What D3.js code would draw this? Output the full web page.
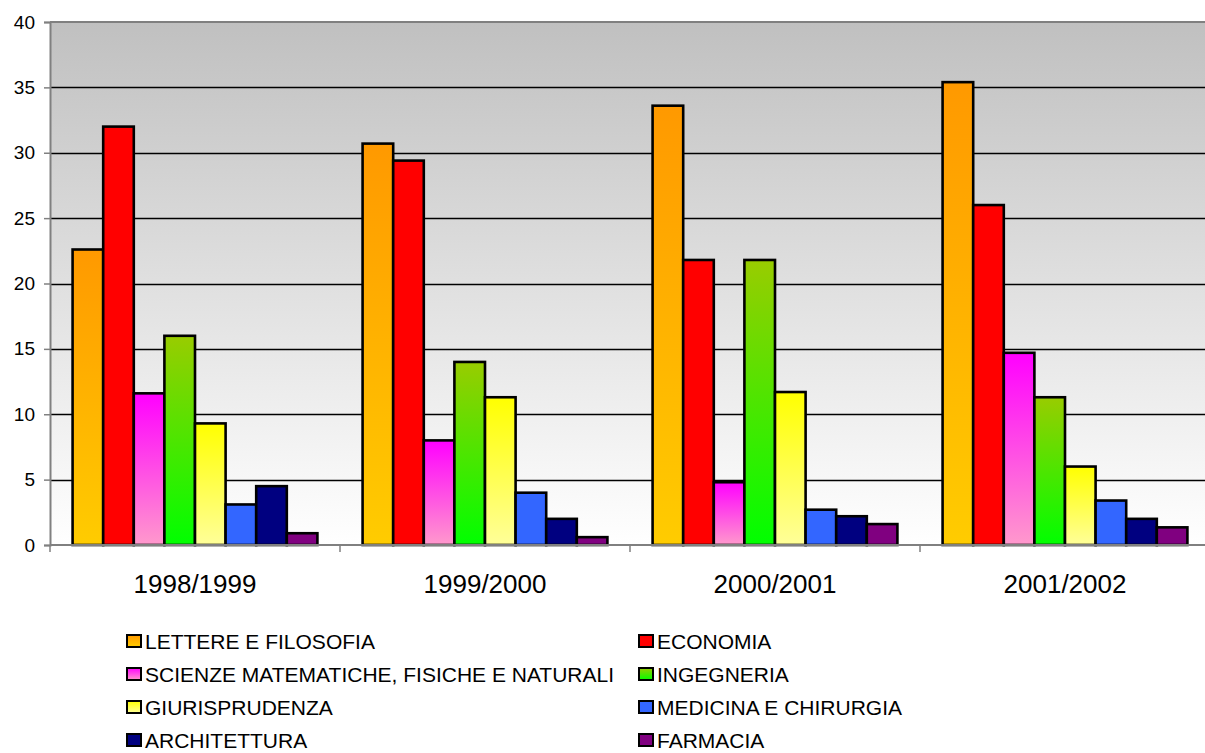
<!DOCTYPE html>
<html>
<head>
<meta charset="utf-8">
<script src="https://cdn.jsdelivr.net/npm/d3@7"></script>
<style>
  html, body { margin: 0; padding: 0; background: #ffffff; }
  svg { display: block; font-family: "Liberation Sans", Arial, sans-serif; }
</style>
</head>
<body>
<svg id="chart" width="1205" height="753"></svg>
<script>
// Academic years on the category axis
const years = ["1998/1999", "1999/2000", "2000/2001", "2001/2002"];

// Faculties (series), in legend order
const faculties = [
  "LETTERE E FILOSOFIA",
  "ECONOMIA",
  "SCIENZE MATEMATICHE, FISICHE E NATURALI",
  "INGEGNERIA",
  "GIURISPRUDENZA",
  "MEDICINA E CHIRURGIA",
  "ARCHITETTURA",
  "FARMACIA"
];

// Values per faculty, one per academic year
const lettere      = [22.6, 30.7, 33.6, 35.4];
const economia     = [32.0, 29.4, 21.8, 26.0];
const scienze      = [11.6,  8.0,  4.8, 14.7];
const ingegneria   = [16.0, 14.0, 21.8, 11.3];
const giurispr     = [ 9.3, 11.3, 11.7,  6.0];
const medicina     = [ 3.1,  4.0,  2.7,  3.4];
const architettura = [ 4.5,  2.0,  2.2,  2.0];
const farmacia     = [ 0.9,  0.6,  1.6,  1.35];

const seriesValues = [lettere, economia, scienze, ingegneria, giurispr, medicina, architettura, farmacia];

// Y axis ticks
const yTicks = [0, 5, 10, 15, 20, 25, 30, 35, 40];

// Fill for each faculty: [top colour, bottom colour]
const fills = [
  ["#FF9900", "#FFCC00"],
  ["#FF0000", "#FF0000"],
  ["#FF00FF", "#FF99CC"],
  ["#99CC00", "#00FF00"],
  ["#FFFF00", "#FFFF99"],
  ["#3366FF", "#3366FF"],
  ["#000080", "#000080"],
  ["#800080", "#800080"]
];

const svg = d3.select("#chart");
const plot = { left: 50, right: 1210, top: 22, bottom: 545 };

const defs = svg.append("defs");
const bg = defs.append("linearGradient").attr("id", "bg")
  .attr("x1", 0).attr("y1", 0).attr("x2", 0).attr("y2", 1);
bg.append("stop").attr("offset", "0%").attr("stop-color", "#C0C0C0");
bg.append("stop").attr("offset", "100%").attr("stop-color", "#FFFFFF");

fills.forEach((f, i) => {
  const g = defs.append("linearGradient").attr("id", "fill" + i)
    .attr("x1", 0).attr("y1", 0).attr("x2", 0).attr("y2", 1);
  g.append("stop").attr("offset", "0%").attr("stop-color", f[0]);
  g.append("stop").attr("offset", "100%").attr("stop-color", f[1]);
});

const x0 = d3.scaleBand().domain(years).range([plot.left, plot.right]).padding(0);
const x1 = d3.scaleBand().domain(d3.range(faculties.length))
  .range([0, x0.bandwidth()]).paddingInner(0).paddingOuter(0.738);
const y = d3.scaleLinear().domain([0, 40]).range([plot.bottom, plot.top]);

// Plot area background
svg.append("rect")
  .attr("x", plot.left).attr("y", plot.top)
  .attr("width", plot.right - plot.left).attr("height", plot.bottom - plot.top)
  .attr("fill", "url(#bg)");

// Horizontal gridlines
svg.append("g").selectAll("line")
  .data(yTicks.filter(t => t > 0 && t < 40))
  .join("line")
  .attr("x1", plot.left).attr("x2", plot.right)
  .attr("y1", d => Math.round(y(d)) + 0.5).attr("y2", d => Math.round(y(d)) + 0.5)
  .attr("stroke", "#000000").attr("stroke-width", 1.3);

// Top border of plot area
svg.append("line")
  .attr("x1", plot.left).attr("x2", plot.right)
  .attr("y1", plot.top).attr("y2", plot.top)
  .attr("stroke", "#808080").attr("stroke-width", 2);

// Bars
const groups = svg.append("g").selectAll("g")
  .data(years)
  .join("g")
  .attr("transform", d => `translate(${x0(d)},0)`);

groups.selectAll("rect")
  .data((d, yi) => seriesValues.map((vals, si) => ({ si, v: vals[yi] })))
  .join("rect")
  .attr("x", d => x1(d.si))
  .attr("width", x1.bandwidth())
  .attr("y", d => y(d.v))
  .attr("height", d => y(0) - y(d.v))
  .attr("fill", d => `url(#fill${d.si})`)
  .attr("stroke", "#000000")
  .attr("stroke-width", 2.6);

// Y axis
const yAxis = d3.axisLeft(y).tickValues(yTicks).tickSize(6).tickPadding(9);
const gy = svg.append("g").attr("transform", `translate(${plot.left},0)`).call(yAxis);
gy.select(".domain").attr("stroke", "#808080").attr("stroke-width", 2);
gy.selectAll(".tick line").attr("stroke", "#808080").attr("stroke-width", 1.5);
gy.selectAll(".tick text")
  .attr("font-size", 19).attr("fill", "#000")
  .attr("font-family", "'Liberation Sans', Arial, sans-serif");

// X axis: ticks on category boundaries
const gx = svg.append("g").attr("transform", `translate(0,${plot.bottom})`);
gx.append("line")
  .attr("x1", plot.left).attr("x2", plot.right)
  .attr("y1", 0).attr("y2", 0)
  .attr("stroke", "#808080").attr("stroke-width", 2);
gx.selectAll("line.tick")
  .data(years)
  .join("line").attr("class", "tick")
  .attr("x1", d => x0(d)).attr("x2", d => x0(d))
  .attr("y1", 0).attr("y2", 7)
  .attr("stroke", "#808080").attr("stroke-width", 1.5);
gx.selectAll("text")
  .data(years)
  .join("text")
  .attr("x", d => x0(d) + x0.bandwidth() / 2)
  .attr("y", 48)
  .attr("text-anchor", "middle")
  .attr("font-size", 26)
  .attr("fill", "#000")
  .text(d => d);

// Legend: two columns, four rows
const legendCols = [126, 638];
const legendRows = [649, 682, 715, 748];
const legend = svg.append("g").selectAll("g")
  .data(faculties)
  .join("g")
  .attr("transform", (d, i) => `translate(${legendCols[i % 2]},${legendRows[Math.floor(i / 2)]})`);
legend.append("rect")
  .attr("x", 1).attr("y", -14)
  .attr("width", 14).attr("height", 12)
  .attr("fill", (d, i) => `url(#fill${i})`)
  .attr("stroke", "#000").attr("stroke-width", 2);
legend.append("text")
  .attr("x", 19).attr("y", 0)
  .attr("font-size", 21)
  .attr("fill", "#000")
  .text(d => d);
</script>
</body>
</html>
